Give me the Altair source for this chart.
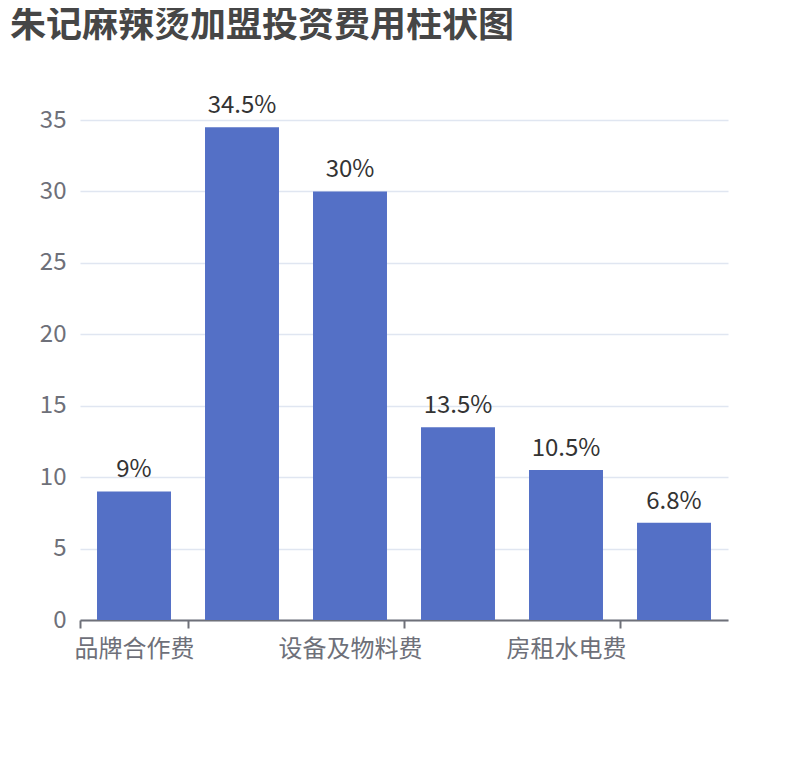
import pandas as pd
import altair as alt

# category names (only every second one is printed on the axis)
categories = ['品牌合作费', '装修费用', '设备及物料费', '人员工资', '房租水电费', '其他费用']
shown_labels = ['品牌合作费', '设备及物料费', '房租水电费']
values = [9, 34.5, 30, 13.5, 10.5, 6.8]
y_ticks = [0, 5, 10, 15, 20, 25, 30, 35]

df = pd.DataFrame({'category': categories, 'value': values})

FONT = 'Noto Sans CJK SC'
AXIS_GREY = '#6e7079'

shown_js = '[' + ','.join("'" + s + "'" for s in shown_labels) + ']'
shown_test = "indexof(" + shown_js + ", datum.value) >= 0"

x_enc = alt.X(
    'category:N',
    sort=categories,
    title=None,
    scale=alt.Scale(paddingInner=0, paddingOuter=0),
    axis=alt.Axis(
        labelAngle=0,
        labelFont=FONT,
        labelFontSize=24,
        labelColor=AXIS_GREY,
        labelPadding=9,
        labelOverlap=False,
        labelFlush=False,
        labelExpr=shown_test + " ? datum.label : ''",
        domainColor=AXIS_GREY,
        domainWidth=2,
        ticks=True,
        tickBand='extent',
        tickColor=alt.condition(shown_test + " || !datum.value", alt.value(AXIS_GREY), alt.value('transparent')),
        tickWidth=2,
        tickSize=8,
        grid=False,
    ),
)

y_enc = alt.Y(
    'value:Q',
    title=None,
    scale=alt.Scale(domain=[0, 35], nice=False),
    axis=alt.Axis(
        values=y_ticks,
        labelFont=FONT,
        labelFontSize=24,
        labelColor=AXIS_GREY,
        labelPadding=14,
        domain=False,
        ticks=False,
        gridColor='#e0e6f1',
        gridWidth=1.5,
    ),
)

bars = alt.Chart(df).mark_bar(
    color='#5470c6', width=alt.RelativeBandSize(0.685)
).encode(x=x_enc, y=y_enc)

labels = alt.Chart(df).transform_calculate(
    label="datum.value + '%'"
).mark_text(
    baseline='bottom', dy=-9, font=FONT, fontSize=24, color='#333333'
).encode(
    x=alt.X('category:N', sort=categories),
    y='value:Q',
    text='label:N',
)

chart = (bars + labels).properties(
    width=648,
    height=500,
    autosize=alt.AutoSizeParams(type='none'),
    padding={'left': 72, 'top': 112, 'right': 74, 'bottom': 132},
    title=alt.TitleParams(
        '朱记麻辣烫加盟投资费用柱状图',
        anchor='start',
        frame='group',
        font=FONT,
        fontSize=36,
        fontWeight='bold',
        color='#464646',
        dx=-70,
        offset=49,
    ),
).configure_view(stroke=None)

chart.save("out.html", embed_options={"renderer": "svg", "actions": False})
